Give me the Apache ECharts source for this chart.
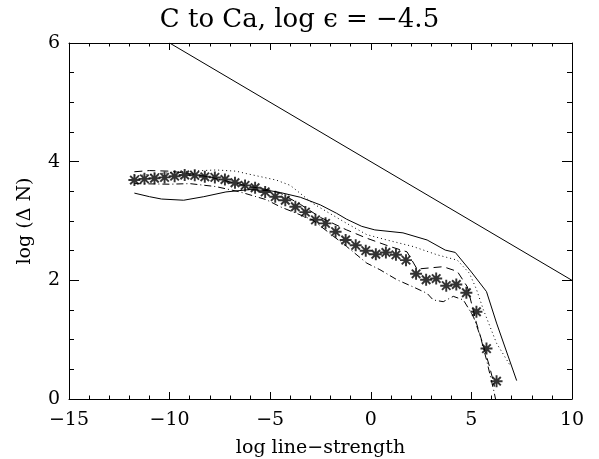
<!DOCTYPE html>
<html>
<head>
<meta charset="utf-8">
<script src="https://cdn.jsdelivr.net/npm/echarts@6/dist/echarts.min.js"></script>
<style>html,body{margin:0;padding:0;background:#fff;}#chart{width:599px;height:459px;}</style>
</head>
<body>
<div id="chart"></div>
<script>
// ---- data ----
var titleText = 'C to Ca, log \u03f5 = \u22124.5';
var xName = 'log line\u2212strength';
var yName = 'log (\u0394 N)';

var refLineX = [-10, 10];
var refLineY = [6, 2];

var starX = [-11.75,-11.25,-10.75,-10.25,-9.75,-9.25,-8.75,-8.25,-7.75,-7.25,-6.75,-6.25,-5.75,-5.25,-4.75,-4.25,-3.75,-3.25,-2.75,-2.25,-1.75,-1.25,-0.75,-0.25,0.25,0.75,1.25,1.75,2.25,2.75,3.25,3.75,4.25,4.75,5.25,5.75,6.25];
var starY = [3.69,3.71,3.72,3.735,3.755,3.775,3.77,3.745,3.735,3.70,3.645,3.60,3.56,3.49,3.41,3.35,3.24,3.15,3.02,2.96,2.82,2.68,2.59,2.50,2.44,2.47,2.43,2.34,2.11,2.01,2.03,1.91,1.93,1.79,1.47,0.85,0.30];

var solidX = [-11.75,-11.0,-10.4,-9.3,-8.3,-7.2,-6.0,-5.0,-4.5,-3.5,-2.5,-1.7,-1.2,-0.45,0.2,1.6,2.8,3.7,4.2,5.0,5.75,6.25,7.25];
var solidY = [3.47,3.41,3.37,3.35,3.41,3.49,3.53,3.51,3.48,3.40,3.27,3.13,3.03,2.91,2.85,2.80,2.68,2.51,2.47,2.14,1.81,1.28,0.31];

var dotX = [-11.75,-10.5,-9.0,-7.7,-6.7,-6.2,-4.7,-4.0,-2.9,-1.2,-0.2,0.8,2.1,3.3,4.3,4.9,5.25,5.6,6.25,6.9];
var dotY = [3.76,3.80,3.84,3.86,3.84,3.80,3.69,3.60,3.30,2.96,2.77,2.68,2.57,2.43,2.34,2.12,1.85,1.50,0.94,0.58];

var dashX = [-11.75,-11.0,-10.0,-9.0,-8.0,-7.0,-6.0,-5.0,-4.5,-3.5,-2.5,-1.2,-0.2,0.95,1.8,2.3,3.6,4.3,4.8,5.25,5.6,5.9,6.15];
var dashY = [3.83,3.85,3.84,3.80,3.74,3.66,3.58,3.52,3.47,3.28,3.06,2.85,2.71,2.57,2.48,2.19,2.23,2.15,1.89,1.28,0.89,0.55,0.21];

var dashDotX = [-11.75,-10.0,-9.0,-7.7,-6.5,-5.2,-4.5,-2.9,-1.2,-0.2,0.45,1.3,2.1,2.8,3.1,3.6,4.1,4.6,5.1,5.45,5.75,6.1,6.2];
var dashDotY = [3.63,3.62,3.63,3.58,3.49,3.36,3.24,3.02,2.57,2.29,2.18,2.01,1.89,1.78,1.67,1.64,1.73,1.67,1.39,1.05,0.66,0.16,0.0];

function pairs(xs, ys) { return xs.map(function (x, i) { return [x, ys[i]]; }); }

var FONT = 'DejaVu Serif';
var asterisk = 'path://M-5 -0.8L5 -0.8L5 0.8L-5 0.8Z M0.8 -5L0.8 5L-0.8 5L-0.8 -5Z M-2.970 -4.101L4.101 2.970L2.970 4.101L-4.101 -2.970Z M4.101 -2.970L-2.970 4.101L-4.101 2.970L2.970 -4.101Z';

function xAx(pos, show) {
  return {
    type: 'value', position: pos, min: -15, max: 10, interval: 5,
    name: show ? xName : '', nameLocation: 'middle', nameGap: 40,
    nameTextStyle: { fontFamily: FONT, fontSize: 19, color: '#000' },
    axisLine: { show: true, onZero: false, lineStyle: { color: '#000', width: 1 } },
    axisTick: { show: true, inside: true, length: 7, lineStyle: { color: '#000' } },
    minorTick: { show: true, splitNumber: 5, length: 3.5, lineStyle: { color: '#000' } },
    axisLabel: { show: show, margin: 12, fontFamily: FONT, fontSize: 19, color: '#000',
      formatter: function (v) { return String(v).replace('-', '\u2212'); } },
    splitLine: { show: false }
  };
}
function yAx(pos, show) {
  return {
    type: 'value', position: pos, min: 0, max: 6, interval: 2,
    name: show ? yName : '', nameLocation: 'middle', nameGap: 34, nameRotate: 90,
    nameTextStyle: { fontFamily: FONT, fontSize: 19, color: '#000' },
    axisLine: { show: true, onZero: false, lineStyle: { color: '#000', width: 1 } },
    axisTick: { show: true, inside: true, length: 10, lineStyle: { color: '#000' } },
    minorTick: { show: true, splitNumber: 4, length: 5, lineStyle: { color: '#000' } },
    axisLabel: { show: show, margin: 9, fontFamily: FONT, fontSize: 19, color: '#000' },
    splitLine: { show: false }
  };
}

var chart = echarts.init(document.getElementById('chart'), null, { renderer: 'canvas' });
var lineBase = { type: 'line', showSymbol: false, symbol: 'none', xAxisIndex: 0, yAxisIndex: 0, silent: true, z: 2 };
chart.setOption({
  animation: false,
  backgroundColor: '#fff',
  title: { text: titleText, left: 'center', top: 2, textStyle: { fontFamily: FONT, fontSize: 26, fontWeight: 'normal', color: '#000' } },
  grid: { left: 69, right: 27, top: 43, bottom: 60, containLabel: false, outerBoundsMode: 'none' },
  xAxis: [xAx('bottom', true), xAx('top', false)],
  yAxis: [yAx('left', true), yAx('right', false)],
  series: [
    Object.assign({}, lineBase, { data: pairs(refLineX, refLineY), lineStyle: { color: '#000', width: 1 } }),
    Object.assign({}, lineBase, { data: pairs(solidX, solidY), lineStyle: { color: '#000', width: 1 } }),
    Object.assign({}, lineBase, { data: pairs(dotX, dotY), lineStyle: { color: '#000', width: 1, type: [1, 3] } }),
    Object.assign({}, lineBase, { data: pairs(dashX, dashY), lineStyle: { color: '#000', width: 1, type: [8, 5] } }),
    Object.assign({}, lineBase, { data: pairs(dashDotX, dashDotY), lineStyle: { color: '#000', width: 1, type: [7, 3, 1, 3] } }),
    { type: 'scatter', xAxisIndex: 0, yAxisIndex: 0, data: pairs(starX, starY), symbol: asterisk, symbolSize: 12,
      itemStyle: { color: '#000' }, silent: true, z: 3 }
  ]
});
</script>
</body>
</html>
